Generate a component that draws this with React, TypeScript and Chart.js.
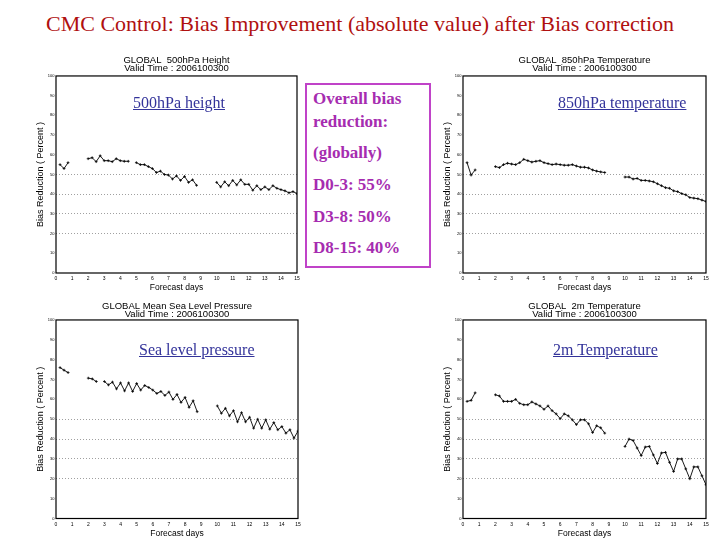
import React, { useEffect, useRef } from "react";
import { Chart, registerables } from "chart.js";

Chart.register(...registerables);

// ---------- data ----------
const DAYS = [0.25, 0.5, 0.75, 1, 1.25, 1.5, 1.75, 2, 2.25, 2.5, 2.75, 3, 3.25, 3.5, 3.75, 4, 4.25, 4.5, 4.75, 5, 5.25, 5.5, 5.75, 6, 6.25, 6.5, 6.75, 7, 7.25, 7.5, 7.75, 8, 8.25, 8.5, 8.75, 9, 9.25, 9.5, 9.75, 10, 10.25, 10.5, 10.75, 11, 11.25, 11.5, 11.75, 12, 12.25, 12.5, 12.75, 13, 13.25, 13.5, 13.75, 14, 14.25, 14.5, 14.75, 15];

const H500 = [55, 53, 56, null, null, null, null,
  58, 58.5, 56.5, 59.5, 57, 57, 56.5, 58, 57, 56.7, 56.7, null,
  56, 55, 55, 54, 53, 51, 51.7, 50, 49.7, 47.7, 49.3, 47, 49, 46, 47.3, 44.5,
  null, null, null, null,
  46, 43.7, 46.3, 44.3, 47, 44.7, 47.3, 45, 45, 42, 44.3, 42.3, 43.7, 42.3, 44.3, 43, 42.3, 41.7, 40.7, 41.3, 40.3];

const T850 = [56, 49.7, 52.3, null, null, null, null,
  54, 53.5, 55, 55.7, 55.3, 55, 56, 57.7, 57, 56.3, 56.7, 57,
  56, 55.5, 55, 55.3, 55, 54.7, 54.7, 55, 54.3, 53.7, 53.7, 53.3, 52.3, 51.7, 51.3, 51,
  null, null, null, null,
  48.7, 48.7, 47.7, 48, 47, 47, 46.7, 46.3, 45.3, 44.3, 43.3, 43, 41.7, 41.3, 40.3, 39.7, 38.3, 38, 37.7, 37, 36.3];

const SLP = [76, 74.7, 73.5, null, null, null, null,
  70.7, 70.3, 69, null,
  69, 67.3, 68.7, 65.3, 68.3, 64.3, 68.3, 64, 68, 64.7, 67, 66, 64.7, 63, 64, 62, 63.7, 60, 62.5, 58.5, 61, 56, 59.3, 53.8,
  null, null, null, null,
  56.7, 53, 55.5, 51.7, 54.3, 48.7, 53.3, 48.7, 51, 45.5, 50, 45.5, 49.7, 45, 48.3, 44.7, 46.3, 43, 44.7, 40.5, 44];

const T2M = [59, 59.5, 63.3, null, null, null, null,
  62.3, 61.7, 59, 59, 59, 60, 58, 57.3, 57.3, 58.7, 57.7, 56.7, 55, 56.7, 54.3, 52.7, 50.3, 52.7, 51.7, 49.7, 47.3, 49.7, 49.7, 47.7, 43.3, 46.7, 45.7, 43,
  null, null, null, null,
  36.3, 40, 39.3, 35.5, 31.7, 36, 36.3, 32, 27.7, 33, 33.3, 28.3, 23.7, 30, 30, 25, 20, 26, 26, 21.5, 17];

const GRID_VALUES = [20, 30, 40, 50];

const TITLE_H500 = ["GLOBAL  500hPa Height", "Valid Time : 2006100300"];
const TITLE_T850 = ["GLOBAL  850hPa Temperature", "Valid Time : 2006100300"];
const TITLE_SLP = ["GLOBAL Mean Sea Level Pressure", "Valid Time : 2006100300"];
const TITLE_T2M = ["GLOBAL  2m Temperature", "Valid Time : 2006100300"];

const Y_TITLE = "Bias Reduction ( Percent )";
const X_TITLE = "Forecast days";

const MAIN_TITLE = "CMC Control: Bias Improvement (absolute value) after Bias correction";
const BOX_LINES = ["Overall bias", "reduction:", "(globally)", "D0-3: 55%", "D3-8: 50%", "D8-15: 40%"];

// ---------- style ----------
const SANS = "'Liberation Sans', Arial, sans-serif";
const SERIF = "'Liberation Serif', 'Times New Roman', serif";

type PanelCfg = {
  left: number; top: number; w: number; h: number;
  yW: number; padRight: number;
  tPadTop: number; tPadBottom: number;
  xH: number; xTitlePadBottom: number;
  title: string[]; values: (number | null)[];
};

const framePlugin = {
  id: "frame",
  afterDatasetsDraw(chart: any) {
    const { ctx, chartArea: a } = chart;
    ctx.save();
    ctx.strokeStyle = "#000";
    ctx.lineWidth = 1.2;
    ctx.strokeRect(a.left, a.top, a.right - a.left, a.bottom - a.top);
    ctx.restore();
  },
};

function Panel({ cfg }: { cfg: PanelCfg }) {
  const ref = useRef<HTMLCanvasElement>(null);
  useEffect(() => {
    const chart = new Chart(ref.current as HTMLCanvasElement, {
      type: "line",
      data: {
        datasets: [
          {
            data: DAYS.map((d, i) => ({ x: d, y: cfg.values[i] })) as any,
            borderColor: "#000",
            borderWidth: 0.9,
            pointStyle: "cross",
            pointRadius: 1.4,
            pointBorderWidth: 0.8,
            pointBorderColor: "#000",
            spanGaps: false,
            tension: 0,
          },
        ],
      },
      options: {
        animation: false,
        responsive: false,
        devicePixelRatio: 1,
        layout: { padding: { left: 0, right: cfg.padRight, top: 0, bottom: 0 } },
        plugins: {
          legend: { display: false },
          tooltip: { enabled: false },
          title: {
            display: true,
            text: cfg.title,
            fullSize: false,
            color: "#000",
            font: { family: SANS, size: 9.5, lineHeight: 0.84, weight: "normal" },
            padding: { top: cfg.tPadTop, bottom: cfg.tPadBottom },
          },
        },
        scales: {
          x: {
            type: "linear",
            min: 0,
            max: 15,
            afterFit: (s: any) => { s.height = cfg.xH; },
            ticks: { stepSize: 1, autoSkip: false, maxRotation: 0, padding: 3, color: "#000", font: { family: SANS, size: 5 } },
            grid: { display: false, drawTicks: false },
            border: { display: false },
            title: { display: true, text: X_TITLE, color: "#000", font: { family: SANS, size: 8.5, lineHeight: 1 }, padding: { top: 0, bottom: cfg.xTitlePadBottom } },
          },
          y: {
            type: "linear",
            min: 0,
            max: 100,
            afterFit: (s: any) => { s.width = cfg.yW; },
            ticks: { stepSize: 10, padding: 1.5, color: "#000", font: { family: SANS, size: 4 } },
            grid: {
              drawTicks: false,
              lineWidth: 1,
              color: (c: any) => (GRID_VALUES.includes(c.tick?.value) ? "#a0a0a0" : "rgba(0,0,0,0)"),
            },
            border: { display: false, dash: [1, 2] },
            title: { display: true, text: Y_TITLE, color: "#000", font: { family: SANS, size: 9, lineHeight: 1 }, padding: { top: 0, bottom: 0 } },
          },
        },
      },
      plugins: [framePlugin],
    } as any);
    return () => chart.destroy();
  }, [cfg]);
  return (
    <canvas
      ref={ref}
      width={cfg.w}
      height={cfg.h}
      style={{ position: "absolute", left: cfg.left, top: cfg.top, width: cfg.w, height: cfg.h }}
    />
  );
}

const PANELS: PanelCfg[] = [
  { left: 36, top: 50, w: 270, h: 246, yW: 20, padRight: 9, tPadTop: 6.5, tPadBottom: 3.5, xH: 23, xTitlePadBottom: 4.5, title: TITLE_H500, values: H500 },
  { left: 443, top: 50, w: 272, h: 246, yW: 20, padRight: 9, tPadTop: 6.5, tPadBottom: 3.5, xH: 23, xTitlePadBottom: 4.5, title: TITLE_T850, values: T850 },
  { left: 36, top: 296, w: 272, h: 244, yW: 20, padRight: 10, tPadTop: 6, tPadBottom: 2, xH: 21.5, xTitlePadBottom: 2.5, title: TITLE_SLP, values: SLP },
  { left: 443, top: 296, w: 272, h: 244, yW: 20, padRight: 9, tPadTop: 6, tPadBottom: 2, xH: 21.5, xTitlePadBottom: 2.5, title: TITLE_T2M, values: T2M },
];

const LABELS = [
  { text: "500hPa height", left: 133, top: 94.6 },
  { text: "850hPa temperature", left: 558, top: 94.6 },
  { text: "Sea level pressure", left: 139, top: 341.6 },
  { text: "2m Temperature", left: 553, top: 341.6 },
];

const BOX_TOPS = [89.8, 112.8, 143.8, 175.8, 207.8, 238.8];

export default function App() {
  return (
    <div style={{ position: "absolute", left: 0, top: 0, width: 720, height: 540, background: "#fff", overflow: "hidden" }}>
      <div
        style={{
          position: "absolute", left: 46, top: 12.6, whiteSpace: "nowrap",
          fontFamily: SERIF, fontSize: 22, lineHeight: 1, color: "#b01010",
        }}
      >
        {MAIN_TITLE}
      </div>
      {PANELS.map((p, i) => (
        <Panel key={i} cfg={p} />
      ))}
      {LABELS.map((l, i) => (
        <div
          key={i}
          style={{
            position: "absolute", left: l.left, top: l.top, whiteSpace: "nowrap",
            fontFamily: SERIF, fontSize: 16, lineHeight: 1, color: "#33339a",
            textDecoration: "underline",
          }}
        >
          {l.text}
        </div>
      ))}
      <div
        style={{
          position: "absolute", left: 305, top: 83, width: 126, height: 185,
          boxSizing: "border-box", border: "2px solid #c043c8", background: "#fff",
        }}
      />
      {BOX_LINES.map((t, i) => (
        <div
          key={i}
          style={{
            position: "absolute", left: 313, top: BOX_TOPS[i], whiteSpace: "nowrap",
            fontFamily: SERIF, fontSize: 17, lineHeight: 1, fontWeight: "bold", color: "#a62cb0",
          }}
        >
          {t}
        </div>
      ))}
    </div>
  );
}
